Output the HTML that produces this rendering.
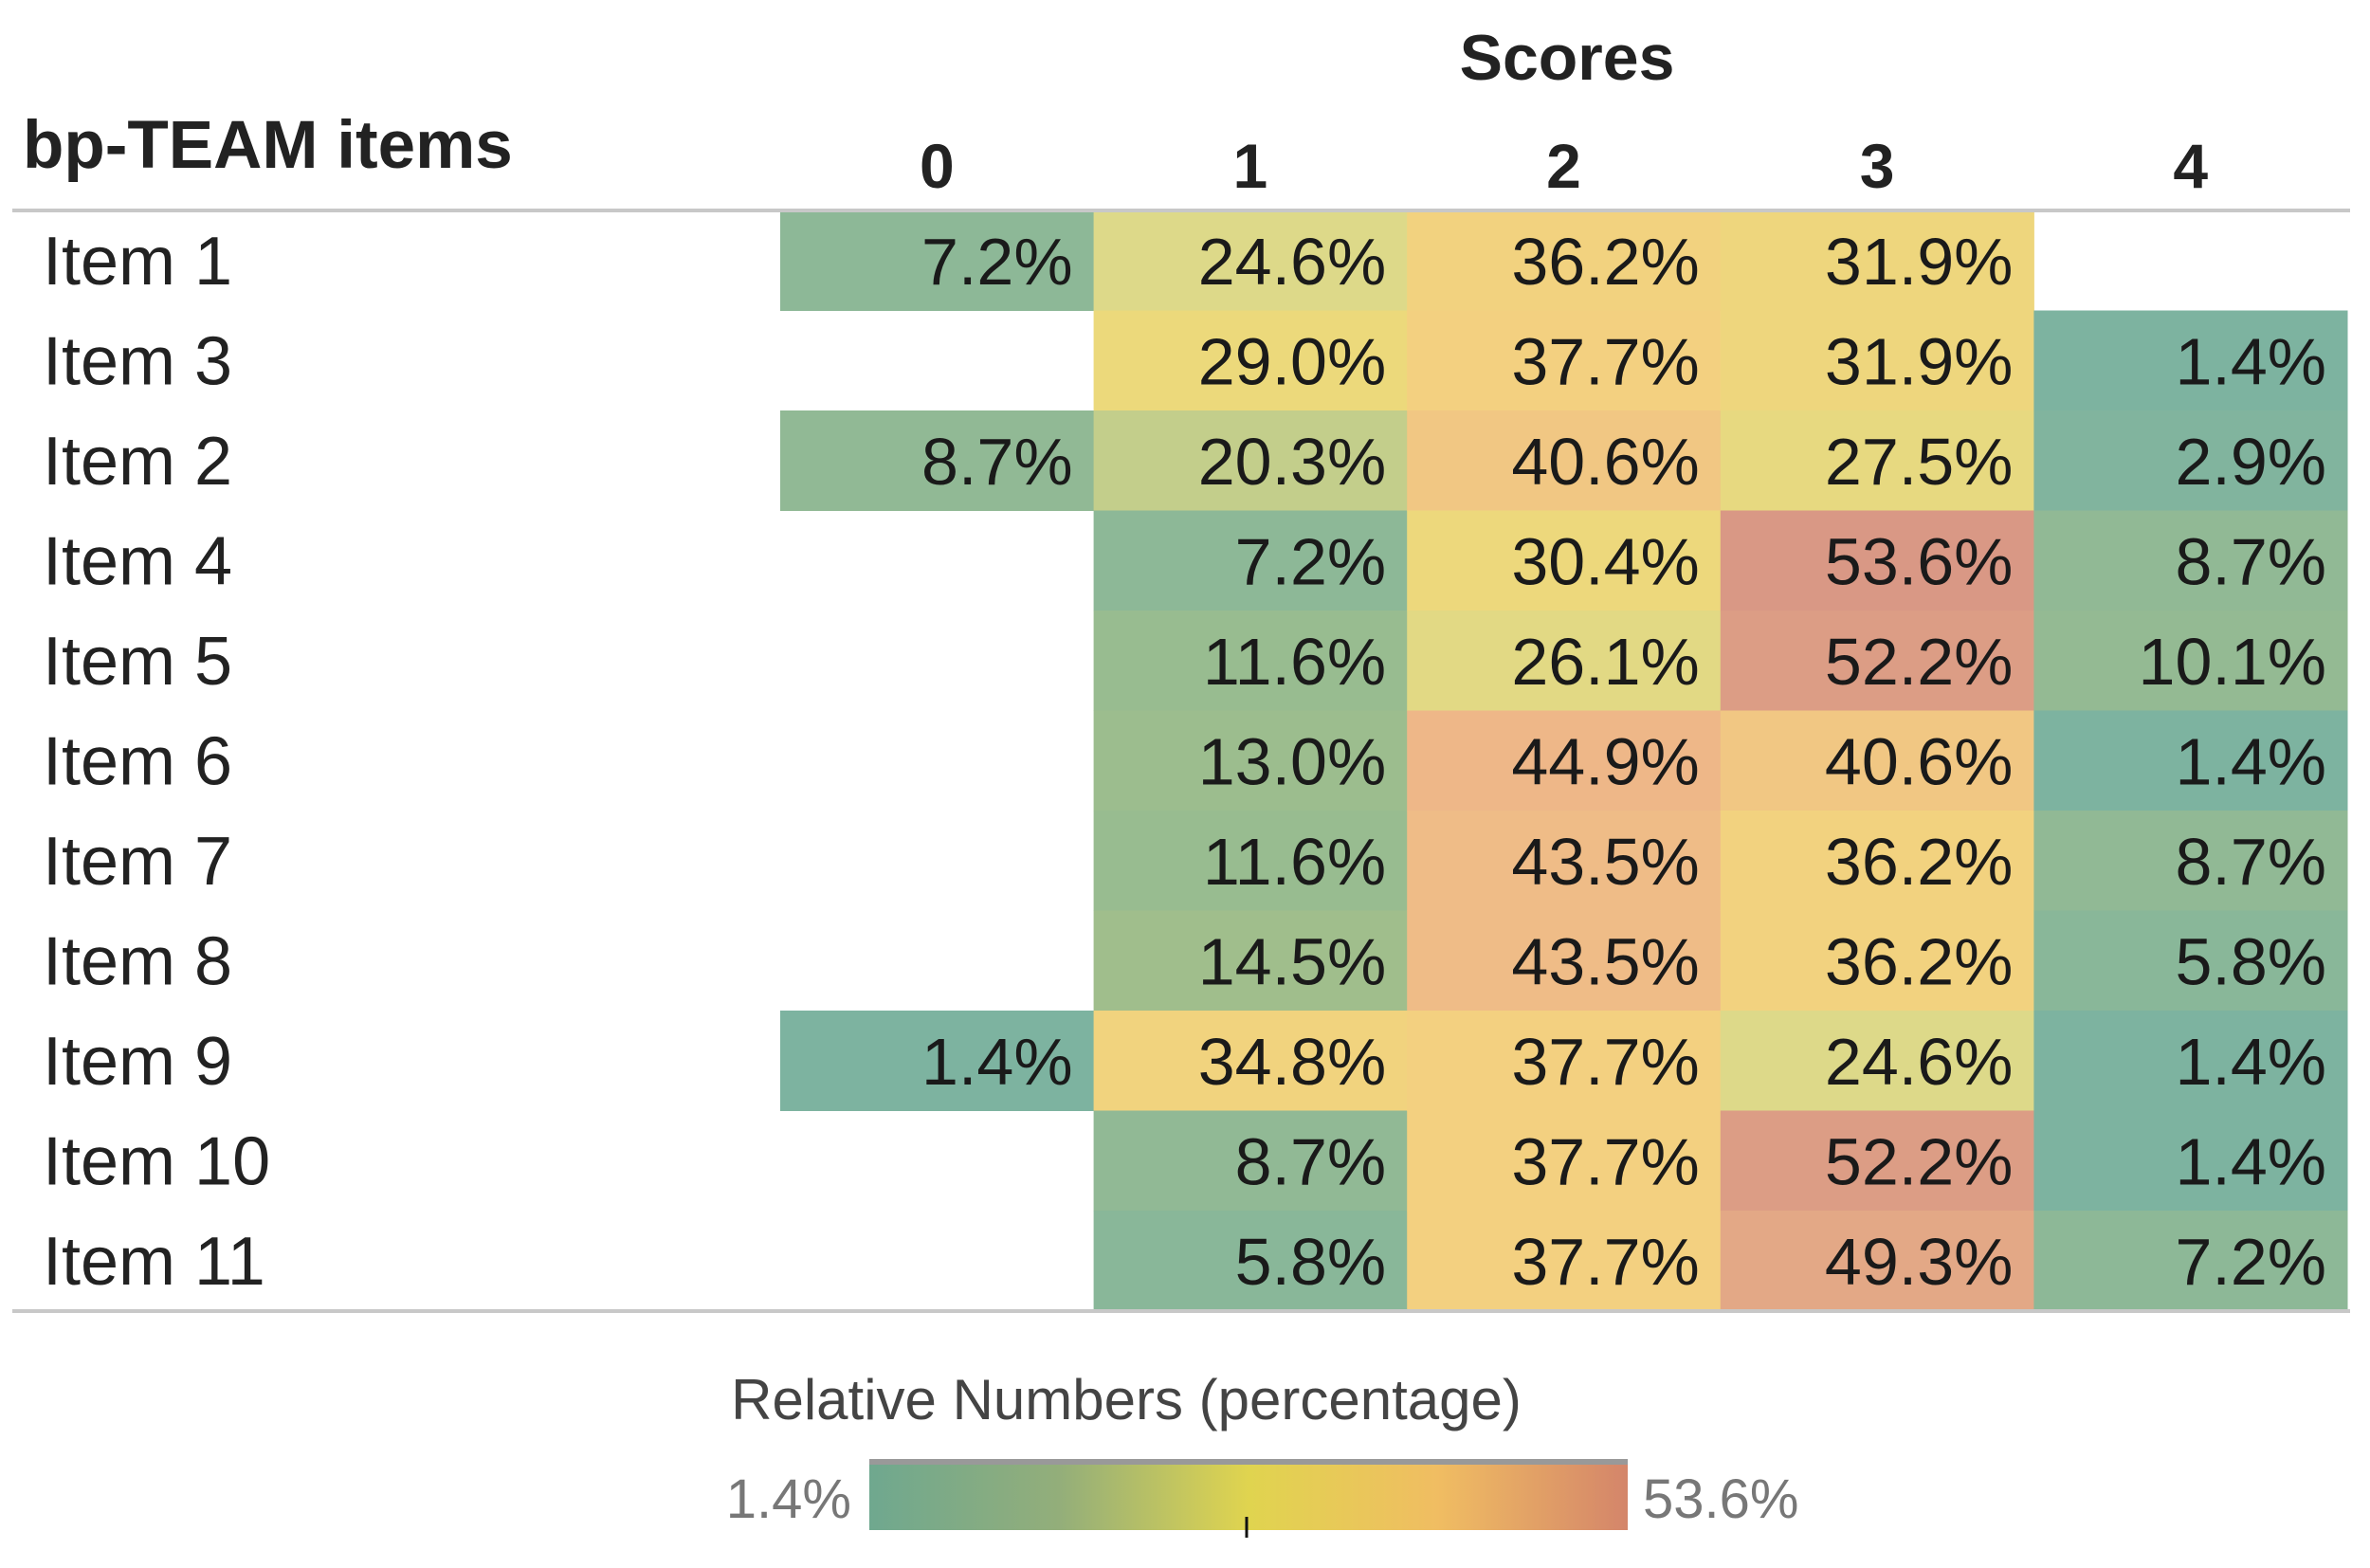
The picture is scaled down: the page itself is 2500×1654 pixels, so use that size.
<!DOCTYPE html>
<html><head><meta charset="utf-8"><style>
html,body{margin:0;padding:0;background:#fff;}
svg{display:block;font-family:"Liberation Sans",sans-serif;}
</style></head><body>
<svg id="chart" width="2500" height="1654" viewBox="0 0 2500 1654">
<defs>
<linearGradient id="grad" x1="0" x2="1" y1="0" y2="0">
<stop offset="0" stop-color="#6fa88f"/>
<stop offset="0.25" stop-color="#93ae7a"/>
<stop offset="0.5" stop-color="#e0d44f"/>
<stop offset="0.75" stop-color="#f0bd62"/>
<stop offset="1" stop-color="#d4856a"/>
</linearGradient>
</defs>
<text x="1653" y="84" font-size="68" font-weight="bold" text-anchor="middle" fill="#222">Scores</text>
<text x="24" y="177" font-size="71" font-weight="bold" fill="#222">bp-TEAM items</text>
<g id="cells"></g>
<line x1="13" x2="2479" y1="222" y2="222" stroke="#c8c8c8" stroke-width="4"/>
<line x1="13" x2="2479" y1="1383" y2="1383" stroke="#c8c8c8" stroke-width="4"/>
<text x="1188" y="1497" font-size="60" text-anchor="middle" fill="#444">Relative Numbers (percentage)</text>
<rect x="917" y="1539" width="800" height="75" fill="url(#grad)"/>
<rect x="917" y="1539" width="800" height="6" fill="#999"/>
<line x1="1315" x2="1315" y1="1600" y2="1622" stroke="#111" stroke-width="3"/>
<text x="898" y="1601" font-size="58" text-anchor="end" fill="#777">1.4%</text>
<text x="1733" y="1601" font-size="58" fill="#777">53.6%</text>
</svg>
<script>
const scores = ["0","1","2","3","4"];
const items = ["Item 1","Item 3","Item 2","Item 4","Item 5","Item 6","Item 7","Item 8","Item 9","Item 10","Item 11"];
const score0 = [7.2,null,8.7,null,null,null,null,null,1.4,null,null];
const score1 = [24.6,29.0,20.3,7.2,11.6,13.0,11.6,14.5,34.8,8.7,5.8];
const score2 = [36.2,37.7,40.6,30.4,26.1,44.9,43.5,43.5,37.7,37.7,37.7];
const score3 = [31.9,31.9,27.5,53.6,52.2,40.6,36.2,36.2,24.6,52.2,49.3];
const score4 = [null,1.4,2.9,8.7,10.1,1.4,8.7,5.8,1.4,1.4,7.2];
const series = [score0,score1,score2,score3,score4];
const colorMin = 1.4, colorMax = 53.6;

const NS="http://www.w3.org/2000/svg";
const svg=document.getElementById('chart');
const g=document.getElementById('cells');
const x0=823, colW=330.6, y0=222, rowH=105.5;
const xCol=i=>x0+i*colW;
const yRow=j=>y0+j*rowH;
const stops=[[0,[125,179,160]],[0.25,[160,190,140]],[0.44,[220,217,138]],[0.53,[236,217,123]],[0.7,[243,208,128]],[0.83,[238,184,136]],[1,[217,152,133]]];
function color(v){
  const t=Math.max(0,Math.min(1,(v-colorMin)/(colorMax-colorMin)));
  for(let k=1;k<stops.length;k++){
    if(t<=stops[k][0]){
      const a=stops[k-1],b=stops[k];const f=(t-a[0])/(b[0]-a[0]);
      const c=a[1].map((x,i)=>Math.round(x+(b[1][i]-x)*f));
      return `rgb(${c[0]},${c[1]},${c[2]})`;
    }
  }
  return 'rgb(217,152,133)';
}
scores.forEach((s,i)=>{
  const t=document.createElementNS(NS,'text');
  t.setAttribute('x',xCol(i)+colW/2);t.setAttribute('y',198);
  t.setAttribute('font-size','66');t.setAttribute('font-weight','bold');
  t.setAttribute('text-anchor','middle');t.setAttribute('fill','#222');
  t.textContent=s;
  
  
  svg.appendChild(t);
});
items.forEach((it,j)=>{
  const t=document.createElementNS(NS,'text');
  t.setAttribute('x',45);t.setAttribute('y',yRow(j)+rowH/2+25);
  t.setAttribute('font-size','72');t.setAttribute('fill','#222');
  t.textContent=it;
  
  
  svg.appendChild(t);
});
series.forEach((arr,i)=>{
  arr.forEach((v,j)=>{
    if(v===null) return;
    const r=document.createElementNS(NS,'rect');
    r.setAttribute('x',xCol(i));r.setAttribute('y',yRow(j));
    r.setAttribute('width',colW+0.5);r.setAttribute('height',rowH+0.5);
    r.setAttribute('fill',color(v));
    
    
    g.appendChild(r);
    const t=document.createElementNS(NS,'text');
    t.setAttribute('x',xCol(i)+colW-22);t.setAttribute('y',yRow(j)+rowH/2+25);
    t.setAttribute('font-size','70');t.setAttribute('text-anchor','end');t.setAttribute('fill','#1a1a1a');
    t.textContent=v.toFixed(1)+'%';
    
    
    g.appendChild(t);
  });
});
</script>
</body></html>
